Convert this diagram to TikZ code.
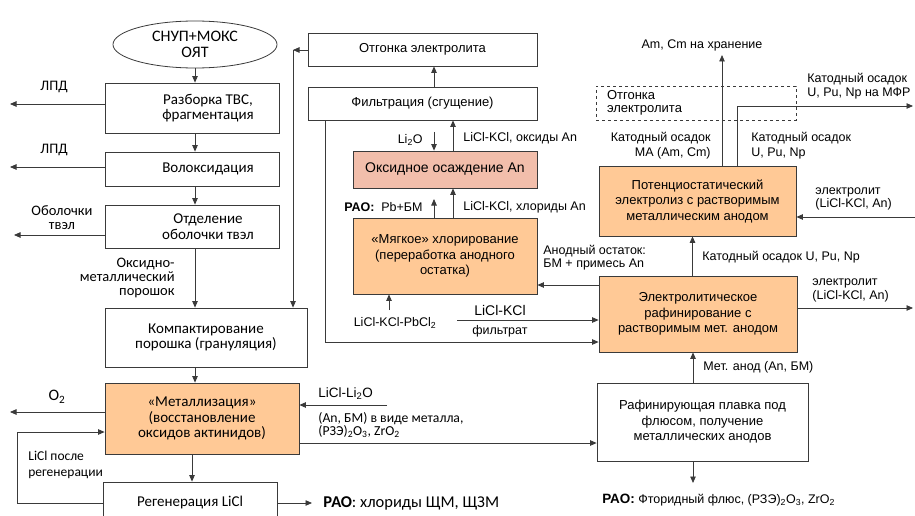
\documentclass[tikz,border=0pt]{standalone}
\usepackage{fontspec}
\setmainfont{Carlito}
\newfontfamily\arialfont{Liberation Sans}
\usetikzlibrary{arrows.meta, positioning, shapes.geometric}

\definecolor{boxline}{HTML}{3A3A3A}
\definecolor{meltfill}{HTML}{FFC996}
\definecolor{oxfill}{HTML}{F2BEAB}

% pushes a line of box text to the right
\newcommand{\pushr}{\hspace*{32pt}}

\tikzset{
    proc/.style={draw=boxline, rectangle, align=center, inner sep=2pt,
        font=\fontsize{15}{15.5}\selectfont},
    aproc/.style={proc, font=\arialfont\fontsize{13}{15.5}\selectfont},
    hot/.style={fill=meltfill},
    lbl/.style={inner sep=0pt, font=\fontsize{14.5}{14}\selectfont},
    albl/.style={inner sep=0pt, font=\arialfont\fontsize{12.5}{13.5}\selectfont},
}

\begin{document}
\begin{tikzpicture}[
        ->,
        >={Triangle[length=6.5pt, width=5.5pt]},
        color=boxline,
        line width=0.8pt,
        every node/.style={text=black},
        x=1pt,
        y=-1pt
    ]
    \useasboundingbox (0,0) rectangle (915,516);
    \clip (0,0) rectangle (915,516);

    % head-end: disassembly down to metallization
    \node[proc, ellipse, minimum width=164pt, minimum height=47pt,
        font=\fontsize{16}{15.5}\selectfont] (snup) at (195,44.5) {СНУП+МОКС\\ОЯТ};
    \node[proc, minimum width=174pt, minimum height=50pt] (razb) at (192,108) {\pushr Разборка ТВС,\\\pushr фрагментация};
    \node[proc, minimum width=174pt, minimum height=34pt] (volox) at (192,169) {\pushr Волоксидация};
    \node[proc, minimum width=174pt, minimum height=43pt] (obol) at (192,226.5) {\pushr Отделение\\\pushr оболочки твэл};
    \node[proc, minimum width=202pt, minimum height=59pt] (kompakt) at (206,337.5) {Компактирование\\порошка (грануляция)};
    \node[proc, hot, minimum width=194pt, minimum height=71pt] (metall) at (202,418.5) {«Металлизация»\\(восстановление\\оксидов актинидов)};
    \node[proc, minimum width=174pt, minimum height=42pt] (regen) at (190,503) {Регенерация LiCl};

    \draw (snup.south) -- (snup.south |- razb.north);
    \draw ([xshift=3pt]razb.south) -- ([xshift=3pt]volox.north);
    \draw ([xshift=3pt]volox.south) -- ([xshift=3pt]obol.north);
    \draw ([xshift=3pt]obol.south) -- ([xshift=3pt]obol.south |- kompakt.north);
    \draw ([xshift=-11pt]kompakt.south) -- ([xshift=-11pt]kompakt.south |- metall.north);
    \draw ([xshift=-10pt]metall.south) -- ([xshift=2pt]regen.north);

    \node[lbl, anchor=east, align=right] (poroshok) at (175,277.5) {Оксидно-\\металлический\\порошок};

    % side streams to the left
    \coordinate (lpdA) at (10,104);
    \coordinate (lpdB) at (10,167);
    \coordinate (obolout) at (14,235);
    \coordinate (oxout) at (10,412);
    \draw (razb.west |- lpdA) -- (lpdA);
    \draw (volox.west |- lpdB) -- (lpdB);
    \draw (obol.west |- obolout) -- (obolout);
    \draw (metall.west |- oxout) -- (oxout);
    \node[lbl] (lpdAl) at (54,87) {ЛПД};
    \node[lbl] (lpdBl) at (54,150) {ЛПД};
    \node[lbl, align=center, font=\fontsize{14.5}{13.5}\selectfont] (obolk) at (62,217.5) {Оболочки\\твэл};
    \node[lbl, font=\fontsize{16}{16}\selectfont] (otwo) at (57,397) {O\textsubscript{2}};

    % LiCl back to metallization, salt waste out
    \coordinate (lireturn) at (17,432);
    \draw (regen.west) -| (lireturn) -- (lireturn -| metall.west);
    \node[lbl, anchor=west, align=left, font=\fontsize{13.5}{16}\selectfont] (licl) at (28,465) {LiCl после\\регенерации};
    \coordinate (raoout) at (312,503);
    \draw (regen.east |- raoout) -- (raoout);
    \node[lbl, anchor=west, font=\fontsize{16.5}{16}\selectfont] (raoA) at (323,503) {\textbf{РАО}: хлориды ЩМ, ЩЗМ};

    % electrolyte treatment column
    \node[aproc, minimum width=229pt, minimum height=33pt] (otgon) at (422.5,49.5) {Отгонка электролита};
    \node[aproc, minimum width=229pt, minimum height=33pt] (filtr) at (422.5,103.5) {Фильтрация (сгущение)};
    \node[aproc, fill=oxfill, minimum width=184pt, minimum height=37pt,
        font=\arialfont\fontsize{14}{15}\selectfont] (osazh) at (445,169.5) {Оксидное осаждение An};
    \node[aproc, hot, minimum width=184pt, minimum height=76pt] (myagk) at (445,256) {«Мягкое» хлорирование\\(переработка анодного\\остатка)};

    \draw ([xshift=11.5pt]filtr.north) -- ([xshift=11.5pt]otgon.south);
    \coordinate (recyc) at (293,50);
    \draw (otgon.west |- recyc) -- (recyc);
    \draw (recyc) -- (recyc |- kompakt.north);

    \coordinate (lio) at (434,132);
    \draw (lio) -- (lio |- osazh.north);
    \node[albl, anchor=east] (liol) at (423,140) {Li\textsubscript{2}O};
    \draw ([xshift=8pt]osazh.north) -- ([xshift=8pt]osazh.north |- filtr.south);
    \node[albl, anchor=west] (oksl) at (463,138) {LiCl-KCl, оксиды An};

    \coordinate (pbbm) at (434,199);
    \draw (myagk.north -| pbbm) -- (pbbm);
    \node[albl, anchor=east] (raoB) at (423,207) {\textbf{РАО:}\ \ Pb+БМ};
    \draw ([xshift=8pt]myagk.north) -- ([xshift=8pt]osazh.south);
    \node[albl, anchor=west] (chlorl) at (463,207) {LiCl-KCl, хлориды An};

    \coordinate (pbin) at (389,310);
    \draw (pbin) -- (pbin |- myagk.south);
    \node[albl] (pbcl) at (395,323) {LiCl-KCl-PbCl\textsubscript{2}};

    % refining and electrolysis
    \node[aproc, dashed, minimum width=200pt, minimum height=34pt, inner xsep=11pt,
        text width=178pt, align=left, font=\arialfont\fontsize{13}{12.5}\selectfont] (otgonB) at (696,103) {Отгонка\\электролита};
    \node[aproc, hot, minimum width=197pt, minimum height=70pt] (potenc) at (697.5,201) {Потенциостатический\\электролиз с растворимым\\металлическим анодом};
    \node[aproc, hot, minimum width=198pt, minimum height=76pt] (elref) at (698,314) {Электролитическое\\рафинирование с\\растворимым мет. анодом};
    \node[aproc, minimum width=211pt, minimum height=78pt] (rafin) at (702.5,422) {Рафинирующая плавка под\\флюсом, получение\\металлических анодов};

    \draw ([yshift=29pt]elref.west) -- ([yshift=-29pt]myagk.east);
    \node[albl, anchor=west, align=left] (anodl) at (543,257.5) {Анодный остаток:\\БМ + примесь An};

    \coordinate (kcl) at (457,320);
    \draw (kcl) -- (kcl -| elref.west);
    \node[albl, font=\arialfont\fontsize{14}{14}\selectfont] (kcll) at (500,310) {LiCl-KCl};
    \node[albl] (filtrl) at (500,331) {фильтрат};
    \draw ([xshift=-97.5pt]filtr.south) |- ([yshift=-28pt]elref.west);

    \coordinate (lili) at (387,405);
    \draw (lili) -- (lili -| metall.east);
    \node[albl, anchor=west, font=\arialfont\fontsize{13.5}{14}\selectfont] (lilil) at (318,394) {LiCl-Li\textsubscript{2}O};
    \draw ([yshift=-24.5pt]metall.east) -- ([yshift=-24.5pt]metall.east -| rafin.west);
    \node[lbl, anchor=west, align=left, font=\fontsize{13.7}{11.5}\selectfont] (metl) at (318,425) {(An, БМ) в виде металла,\\(РЗЭ)\textsubscript{2}O\textsubscript{3}, ZrO\textsubscript{2}};

    \draw ([xshift=-9.5pt]rafin.north) -- ([xshift=-9.5pt]rafin.north |- elref.south);
    \node[albl, anchor=west] (anodin) at (703,367) {Мет. анод (An, БМ)};
    \coordinate (raoflux) at (693,483);
    \draw (rafin.south -| raoflux) -- (raoflux);
    \node[albl, anchor=west] (raoC) at (602,500) {{\fontsize{13.5}{14}\selectfont\textbf{РАО:}} Фторидный флюс, (РЗЭ)\textsubscript{2}O\textsubscript{3}, ZrO\textsubscript{2}};

    \draw ([xshift=-5.5pt]elref.north) -- ([xshift=-5.5pt]elref.north |- potenc.south);
    \node[albl, anchor=west] (katA) at (702,257) {Катодный осадок U, Pu, Np};
    \coordinate (elout) at (913,308);
    \draw (elref.east |- elout) -- (elout);
    \node[albl, anchor=west, align=left] (eloutl) at (812,290.5) {электролит\\(LiCl-KCl, An)};
    \coordinate (elin) at (915,217);
    \draw (elin) -- (elin -| potenc.east);
    \node[albl, anchor=west, align=left] (elinl) at (815,199) {электролит\\(LiCl-KCl, An)};

    \coordinate (store) at (722,55);
    \draw (potenc.north -| store) -- (store);
    \node[albl] (storel) at (702,45) {Am, Cm на хранение};
    \coordinate (mfr) at (913,106);
    \draw ([xshift=39.5pt]potenc.north) |- (mfr);
    \node[albl, anchor=west, align=left] (mfrl) at (807,86) {Катодный осадок\\U, Pu, Np на МФР};
    \node[albl, anchor=east, align=right, font=\arialfont\fontsize{12.5}{14.5}\selectfont] (katMA) at (711,145.5) {Катодный осадок\\MA (Am, Cm)};
    \node[albl, anchor=west, align=left, font=\arialfont\fontsize{12.5}{14.5}\selectfont] (katU) at (751,145.5) {Катодный осадок\\U, Pu, Np};
\end{tikzpicture}
\end{document}
